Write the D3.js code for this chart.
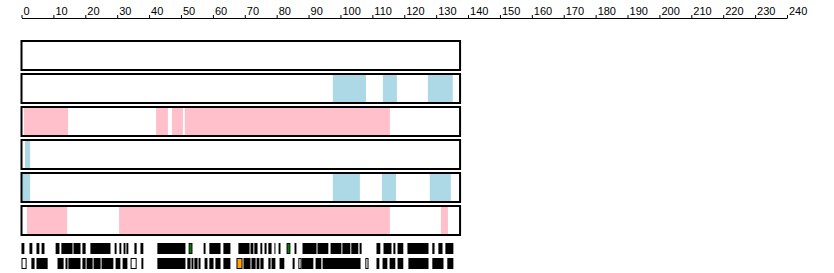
<!DOCTYPE html>
<html>
<head>
<meta charset="utf-8">
<script src="https://cdn.jsdelivr.net/npm/d3@7"></script>
<style>
  body { margin: 0; background: #fff; }
  text { font-family: "Liberation Sans", Arial, sans-serif; font-size: 11px; }
</style>
</head>
<body>
<svg class="svg-main" width="834" height="273"></svg>
<script>
// sequence length and axis
const seqLength = 137.5;
const axisMax = 240;
const tickValues = d3.range(0, 241, 10);

// highlighted regions per track row [start, end]
const track1 = [];
const track2 = [[97.6, 108], [113.3, 117.7], [127.4, 135.2]];
const track3 = [[0.8, 14.6], [42.2, 45.9], [47.2, 50.6], [51.2, 115.5]];
const track4 = [[1.1, 2.7]];
const track5 = [[0, 2.7], [97.6, 106.1], [113, 117.4], [128, 134.6]];
const track6 = [[1.7, 14.3], [30.6, 115.5], [131.5, 133.7]];
const trackColors = ["#add8e6", "#add8e6", "#ffc0cb", "#add8e6", "#add8e6", "#ffc0cb"];

// residue strips [start, end, kind]  k = black, h = hollow, g = green, o = orange
const stripA = [
  [0.0, 0.9, "k"], [2.5, 3.4, "k"], [4.7, 5.6, "k"], [6.3, 7.2, "k"], [10.7, 11.9, "k"],
  [12.5, 16.0, "k"], [16.3, 18.5, "k"], [19.1, 20.1, "k"], [21.6, 27.9, "k"], [29.2, 29.8, "k"],
  [30.7, 31.3, "k"], [32.0, 32.6, "k"], [32.9, 33.5, "k"], [35.4, 36.1, "k"], [37.3, 38.2, "k"],
  [42.6, 51.4, "k"], [52.4, 53.6, "g"], [57.1, 57.7, "k"], [58.9, 62.4, "k"], [63.3, 65.5, "k"],
  [68.0, 71.5, "k"], [71.8, 72.7, "k"], [73.0, 74.0, "k"], [74.9, 75.5, "k"], [76.2, 76.8, "h"],
  [77.4, 78.4, "k"], [79.3, 79.6, "k"], [80.6, 81.2, "k"], [83.1, 84.3, "g"], [85.6, 86.2, "k"],
  [88.1, 92.5, "k"], [92.8, 96.2, "k"], [96.9, 100.3, "k"], [100.6, 103.1, "k"], [103.4, 105.6, "k"],
  [106.0, 106.6, "h"], [111.3, 112.5, "k"], [113.5, 116.0, "k"], [116.6, 117.2, "g"], [117.9, 119.7, "k"],
  [121.0, 127.6, "k"], [128.8, 129.5, "k"], [130.7, 132.0, "k"], [132.9, 135.4, "k"]
];
const stripB = [
  [0.0, 1.6, "h"], [3.1, 4.1, "k"], [4.7, 8.2, "k"], [11.3, 13.2, "k"], [13.8, 14.4, "h"],
  [14.7, 18.5, "k"], [19.1, 20.1, "k"], [20.4, 22.3, "k"], [22.6, 24.8, "k"], [25.1, 28.8, "k"],
  [29.5, 31.0, "k"], [31.7, 33.2, "k"], [34.2, 36.1, "h"], [37.6, 38.2, "k"], [42.6, 51.4, "k"],
  [52.0, 53.0, "k"], [53.3, 53.9, "k"], [54.2, 55.2, "k"], [55.5, 56.1, "o"], [57.4, 58.3, "k"],
  [58.9, 60.2, "k"], [60.8, 62.4, "k"], [63.3, 65.5, "k"], [67.4, 69.3, "o"], [69.6, 71.8, "k"],
  [72.1, 73.4, "k"], [73.7, 74.6, "k"], [74.9, 75.9, "k"], [77.4, 78.1, "k"], [78.4, 79.6, "k"],
  [80.9, 82.4, "k"], [85.0, 85.6, "h"], [86.8, 87.8, "h"], [87.8, 91.5, "k"], [92.2, 94.0, "k"],
  [94.4, 106.3, "k"], [107.8, 108.8, "h"], [111.3, 112.2, "k"], [113.2, 114.7, "k"], [115.4, 117.2, "k"],
  [117.9, 119.7, "k"], [121.3, 127.6, "k"], [128.8, 132.3, "k"], [133.5, 135.4, "k"]
];
const kindFill = { k: "#000", h: "#fff", g: "#008000", o: "#ffa500" };

const svg = d3.select('.svg-main');

const x = d3.scaleLinear().domain([0, axisMax]).range([21.5, 787]);
const y = d3.scaleLinear().domain([0, 6]).range([40, 238]);

// top axis
const axis = svg.append("g")
  .attr("transform", "translate(0,18)")
  .call(d3.axisTop(x).tickValues(tickValues).tickSize(3).tickSizeOuter(0));
axis.select(".domain").attr("stroke", "#000");
axis.selectAll(".tick line").attr("stroke", "#000");
axis.selectAll(".tick text")
  .attr("text-anchor", "start")
  .attr("x", 1.5)
  .attr("y", -3)
  .attr("fill", "#000")
  .style("font-family", '"Liberation Sans", Arial, sans-serif')
  .style("font-size", "11px");

// tracks
const tracks = [track1, track2, track3, track4, track5, track6];
const rowH = y(1) - y(0);

tracks.forEach((regions, i) => {
  const g = svg.append("g").attr("class", "track");
  g.selectAll("rect.region")
    .data(regions)
    .enter().append("rect")
      .attr("class", "region")
      .attr("x", (d) => x(d[0]))
      .attr("y", y(i) + 2)
      .attr("width", (d) => x(d[1]) - x(d[0]))
      .attr("height", rowH - 6)
      .attr("fill", trackColors[i]);
  g.append("rect")
    .attr("x", x(0))
    .attr("y", y(i) + 1)
    .attr("width", x(seqLength) - x(0))
    .attr("height", rowH - 4)
    .attr("fill", "none")
    .attr("stroke", "#000")
    .attr("stroke-width", 2);
});

// residue strips
[stripA, stripB].forEach((cells, j) => {
  const top = y(6) + 5 + j * 15;
  svg.append("g").selectAll("rect")
    .data(cells)
    .enter().append("rect")
      .attr("x", (d) => x(d[0]) + (d[2] === "k" ? 0 : 0.5))
      .attr("y", (d) => top + (d[2] === "k" ? 0 : 0.5))
      .attr("width", (d) => Math.max(1, x(d[1]) - x(d[0]) - (d[2] === "k" ? 0 : 1)))
      .attr("height", (d) => d[2] === "k" ? 11 : 10)
      .attr("fill", (d) => kindFill[d[2]])
      .attr("stroke", (d) => d[2] === "k" ? "none" : "#000")
      .attr("stroke-width", 1);
});
</script>
</body>
</html>
